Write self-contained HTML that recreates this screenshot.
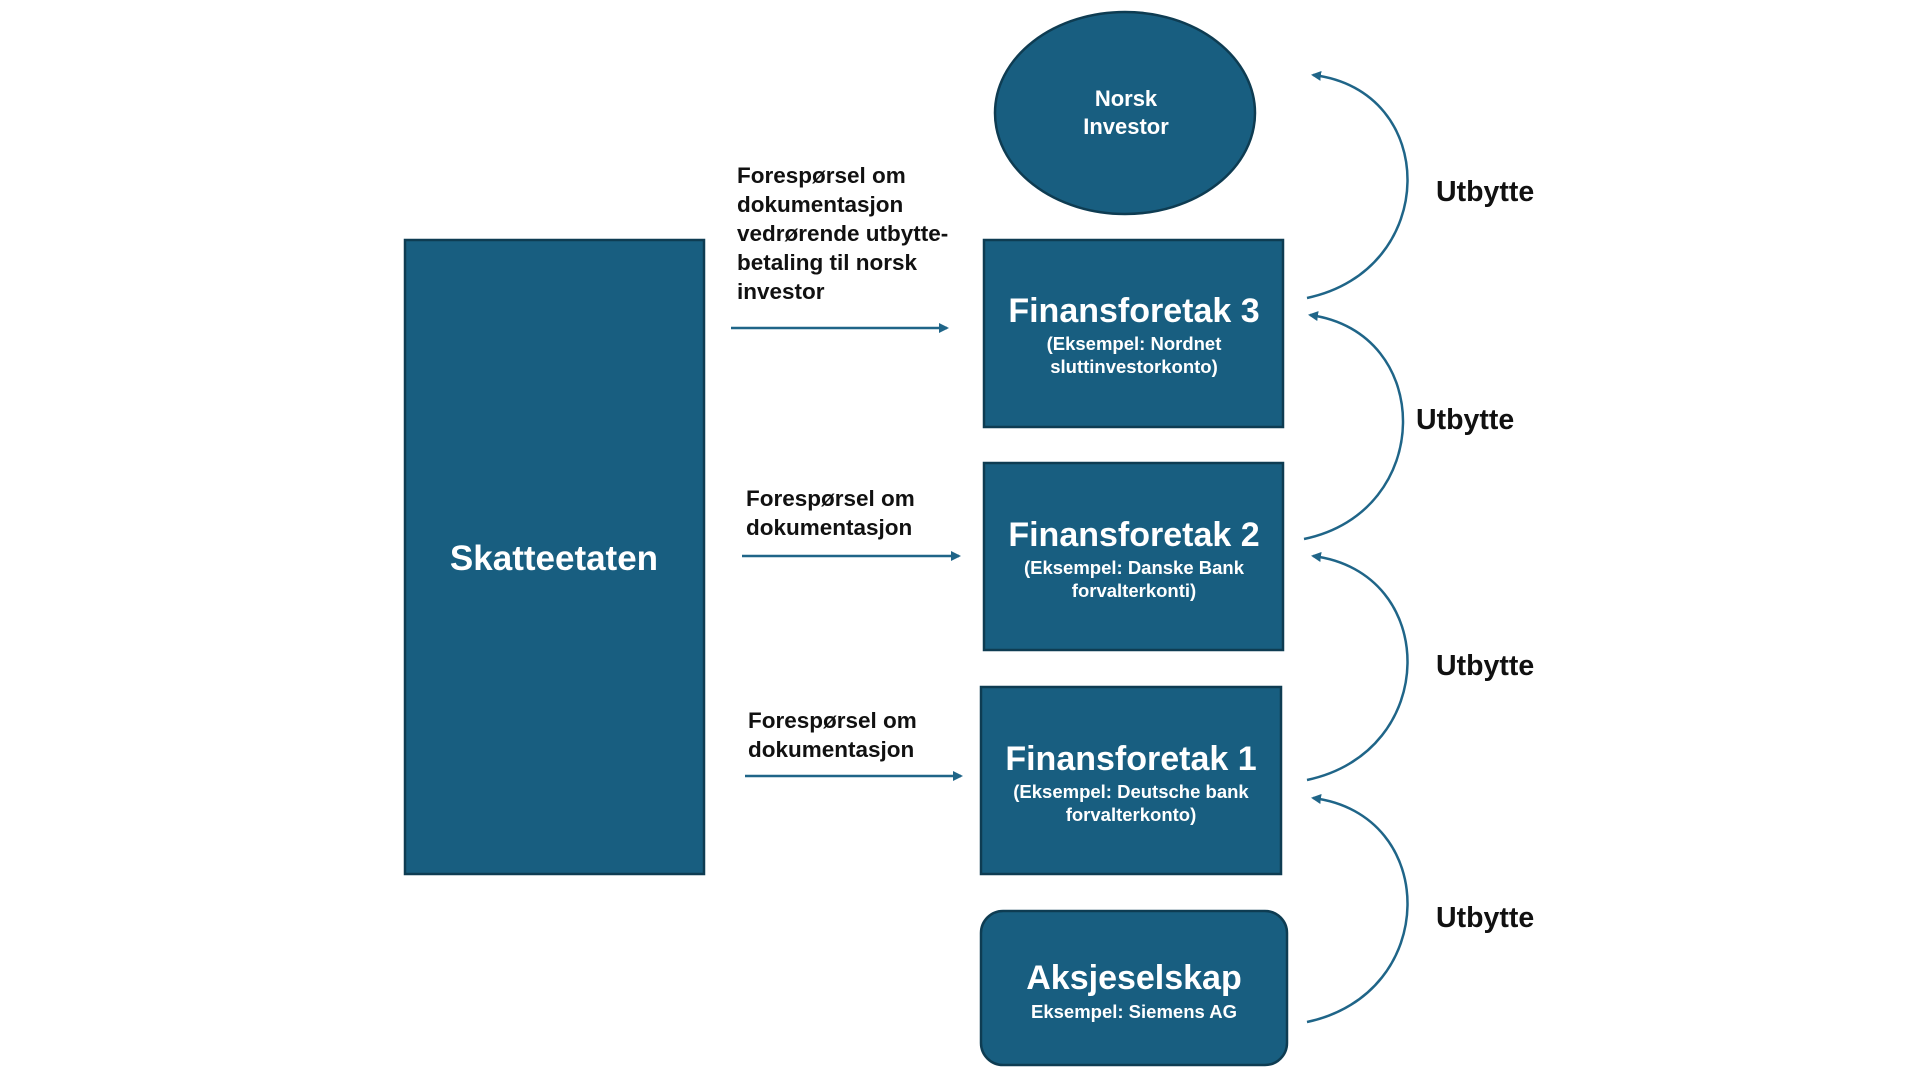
<!DOCTYPE html>
<html><head><meta charset="utf-8"><style>
html,body{margin:0;padding:0;background:#fff;width:1920px;height:1080px;overflow:hidden}
svg text{font-family:"Liberation Sans",sans-serif;font-weight:bold}
</style></head><body>
<svg width="1920" height="1080" viewBox="0 0 1920 1080" xmlns="http://www.w3.org/2000/svg">
<defs>
<marker id="ah" markerWidth="10" markerHeight="10" refX="8" refY="5" orient="auto" markerUnits="userSpaceOnUse">
<path d="M0,0 L10,5 L0,10 Z" fill="#1f6588"/>
</marker>
</defs>
<g fill="#185e80" stroke="#0e3c52" stroke-width="2.5">
<rect x="405" y="240" width="299" height="634"/>
<ellipse cx="1125" cy="113" rx="130" ry="101"/>
<rect x="984" y="240" width="299" height="187"/>
<rect x="984" y="463" width="299" height="187"/>
<rect x="981" y="687" width="300" height="187"/>
<rect x="981" y="911" width="306" height="154" rx="22"/>
</g>
<g fill="#fff" text-anchor="middle">
<text x="554" y="570" font-size="35">Skatteetaten</text>
<text x="1126" y="106" font-size="22">Norsk</text>
<text x="1126" y="134" font-size="22">Investor</text>
<text x="1134" y="322" font-size="34">Finansforetak 3</text>
<text x="1134" y="350" font-size="18.5">(Eksempel: Nordnet</text>
<text x="1134" y="373" font-size="18.5">sluttinvestorkonto)</text>
<text x="1134" y="546" font-size="34">Finansforetak 2</text>
<text x="1134" y="574" font-size="18.5">(Eksempel: Danske Bank</text>
<text x="1134" y="597" font-size="18.5">forvalterkonti)</text>
<text x="1131" y="770" font-size="34">Finansforetak 1</text>
<text x="1131" y="798" font-size="18.5">(Eksempel: Deutsche bank</text>
<text x="1131" y="821" font-size="18.5">forvalterkonto)</text>
<text x="1134" y="989" font-size="34">Aksjeselskap</text>
<text x="1134" y="1018" font-size="18.5">Eksempel: Siemens AG</text>
</g>
<g fill="#111" font-size="22.5">
<text x="737" y="183">Forespørsel om</text>
<text x="737" y="212">dokumentasjon</text>
<text x="737" y="241">vedrørende utbytte-</text>
<text x="737" y="270">betaling til norsk</text>
<text x="737" y="299">investor</text>
<text x="746" y="506">Forespørsel om</text>
<text x="746" y="535">dokumentasjon</text>
<text x="748" y="728">Forespørsel om</text>
<text x="748" y="757">dokumentasjon</text>
</g>
<g fill="#111" font-size="28.5">
<text x="1436" y="201">Utbytte</text>
<text x="1416" y="429">Utbytte</text>
<text x="1436" y="675">Utbytte</text>
<text x="1436" y="927">Utbytte</text>
</g>
<g stroke="#1f6588" stroke-width="2.5" fill="none" marker-end="url(#ah)">
<line x1="731" y1="328" x2="947" y2="328"/>
<line x1="742" y1="556" x2="959" y2="556"/>
<line x1="745" y1="776" x2="961" y2="776"/>
<path d="M1307 298 C1440 270,1440 90,1313 75"/>
<path d="M1304 539 C1435 512,1435 332,1310 315"/>
<path d="M1307 780 C1440 752,1440 572,1313 556"/>
<path d="M1307 1022 C1440 994,1440 814,1313 798"/>
</g>
</svg>
</body></html>
